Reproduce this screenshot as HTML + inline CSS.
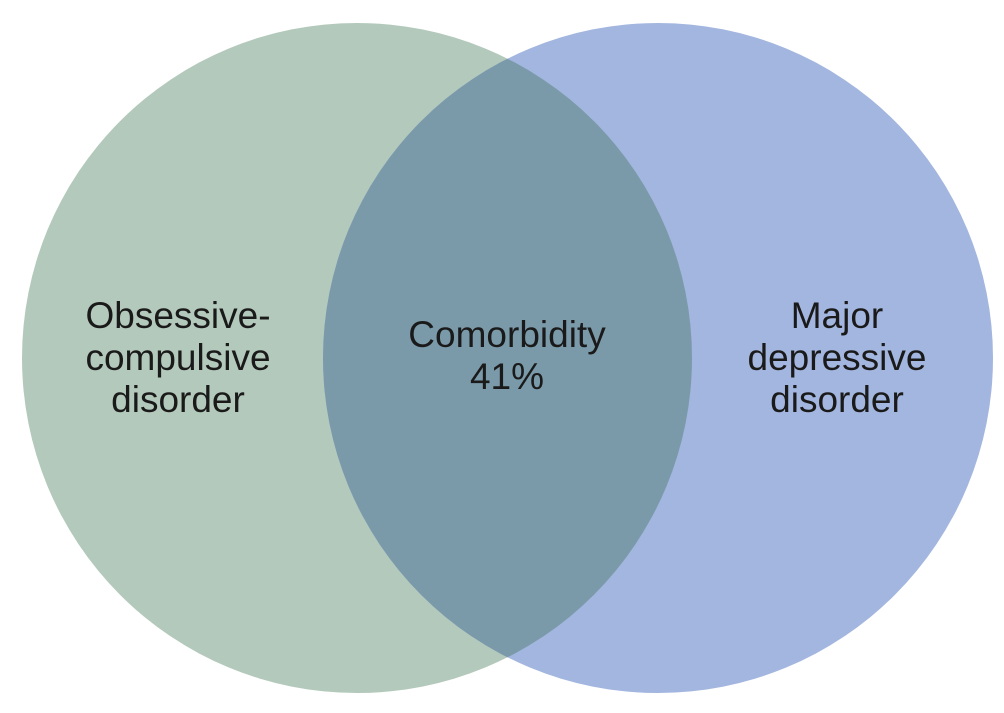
<!DOCTYPE html>
<html><head><style>
html,body{margin:0;padding:0;background:#fff;}
svg{display:block;}
text{font-family:"Liberation Sans",sans-serif;font-size:37px;fill:#1a1a1a;text-anchor:middle;}
</style></head><body>
<svg width="1004" height="713" viewBox="0 0 1004 713">
<defs>
<clipPath id="cl"><circle cx="357" cy="358" r="335"/></clipPath>
</defs>
<circle cx="357" cy="358" r="335" fill="#b3c9bb"/>
<circle cx="658" cy="358" r="335" fill="#a3b6df"/>
<circle cx="658" cy="358" r="335" fill="#7a9aaa" clip-path="url(#cl)"/>
<text x="178" y="328">Obsessive-</text>
<text x="178" y="370">compulsive</text>
<text x="178" y="412">disorder</text>
<text x="507" y="347">Comorbidity</text>
<text x="507" y="389">41%</text>
<text x="837" y="328">Major</text>
<text x="837" y="370">depressive</text>
<text x="837" y="412">disorder</text>
</svg>
</body></html>
